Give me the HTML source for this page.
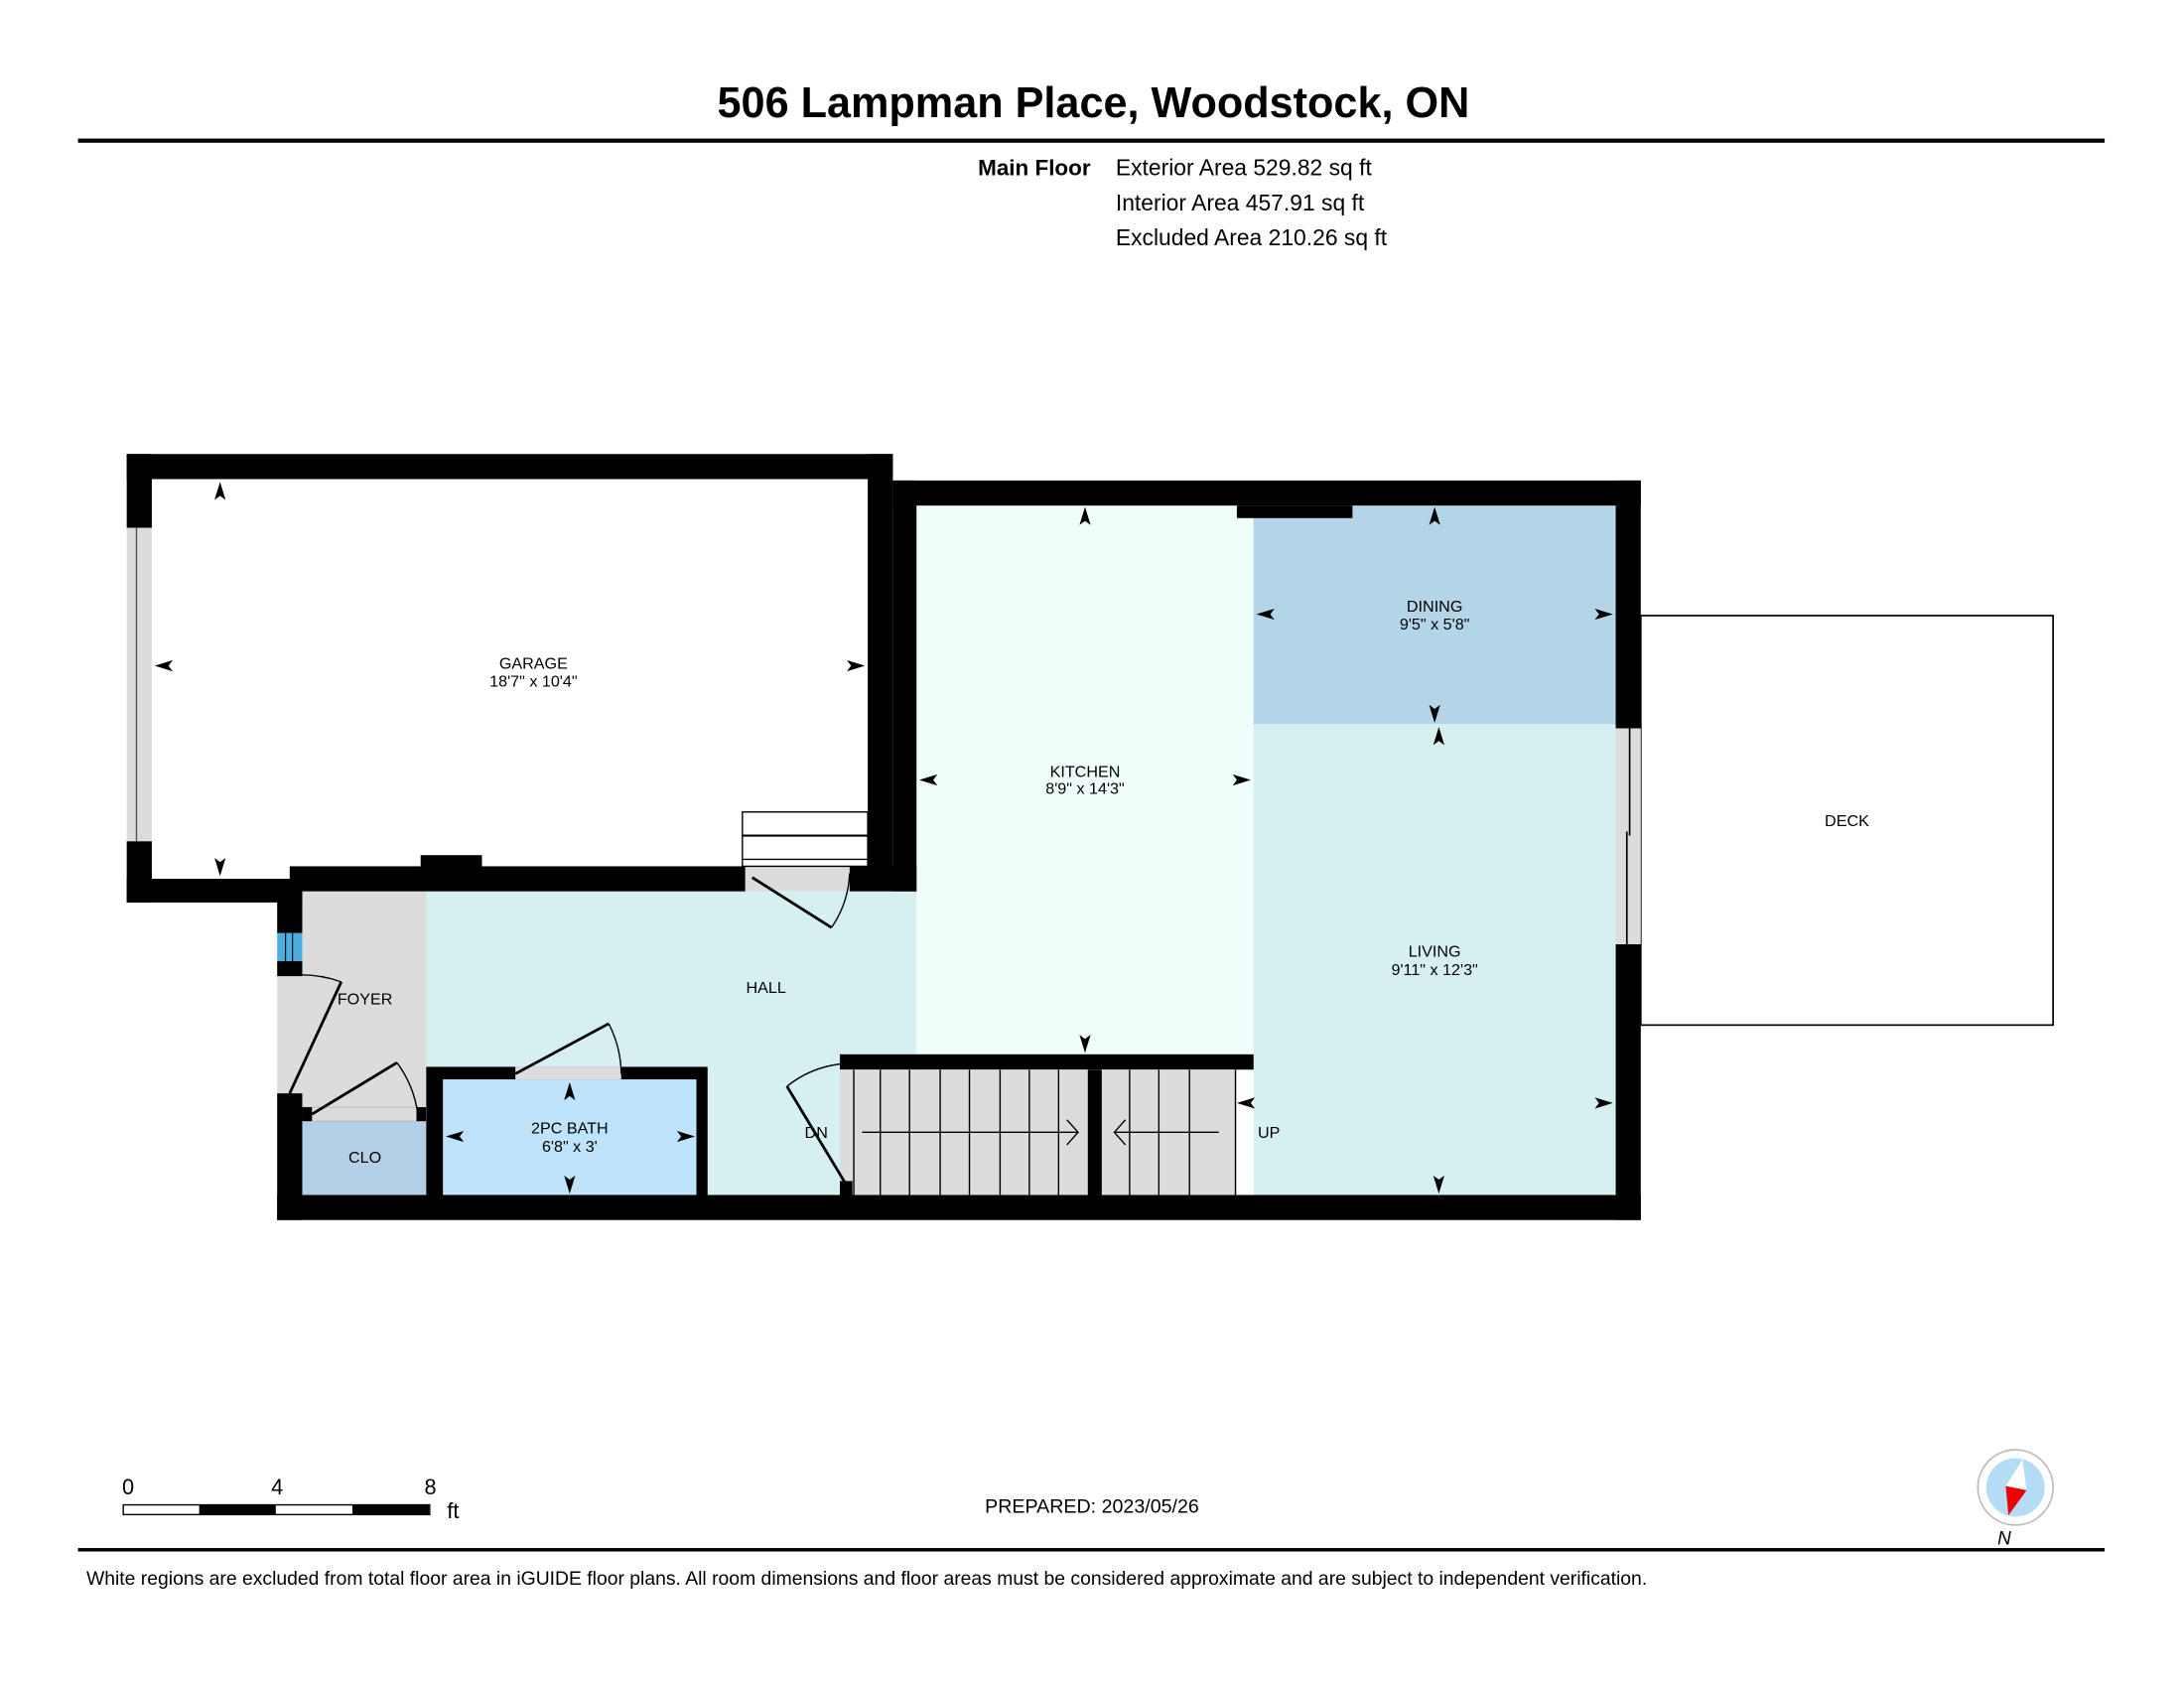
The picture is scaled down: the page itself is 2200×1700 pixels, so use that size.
<!DOCTYPE html>
<html><head><meta charset="utf-8"><style>
html,body{margin:0;padding:0;background:#fff;}
svg{display:block;}
text{font-family:"Liberation Sans",Arial,sans-serif;fill:#000;}
</style></head><body>
<svg width="2200" height="1700" viewBox="0 0 1568 1212" preserveAspectRatio="none" xmlns="http://www.w3.org/2000/svg">
<defs>
<path id="ar" d="M0,0 L4,13 L0,10 L-4,13 Z" fill="#000"/>
</defs>
<rect width="1568" height="1212" fill="#fff"/>
<text x="785" y="84" font-size="30.8" font-weight="bold" text-anchor="middle">506 Lampman Place, Woodstock, ON</text>
<rect x="56" y="99.5" width="1455" height="3" fill="#000"/>
<text x="783" y="126" font-size="16" font-weight="bold" text-anchor="end">Main Floor</text>
<text x="801" y="126" font-size="16.3">Exterior Area 529.82 sq ft</text>
<text x="801" y="151" font-size="16.3">Interior Area 457.91 sq ft</text>
<text x="801" y="176" font-size="16.3">Excluded Area 210.26 sq ft</text>

<!-- deck -->
<rect x="1178" y="442" width="296" height="294" fill="#fff" stroke="#000" stroke-width="1.2"/>
<text x="1326" y="593" font-size="11.5" text-anchor="middle">DECK</text>

<!-- room fills -->
<rect x="658" y="363" width="242" height="400" fill="#effdfb"/>
<rect x="900" y="363" width="260" height="157" fill="#b4d4e8"/>
<rect x="900" y="520" width="260" height="338" fill="#d6f0f2"/>
<rect x="306" y="640" width="352" height="218" fill="#d6f0f2"/>
<rect x="217" y="640" width="89" height="165" fill="#dcdcdc"/>
<rect x="217" y="805" width="89" height="53" fill="#b4d0e6"/>
<rect x="306" y="766" width="202" height="92" fill="#000"/>
<rect x="318" y="775" width="182" height="83" fill="#bfe3fa"/>
<rect x="370" y="766" width="76" height="9" fill="#dcdcdc"/>
<rect x="217" y="795" width="89" height="10" fill="#dcdcdc" stroke="#aaa" stroke-width="0.5"/>
<rect x="535" y="622" width="75" height="18" fill="#dcdcdc"/>

<!-- stairs -->
<rect x="603" y="757" width="297" height="11" fill="#000"/>
<rect x="603" y="768" width="284" height="90" fill="#dcdcdc"/>
<rect x="781" y="768" width="10" height="90" fill="#000"/>
<g stroke="#000" stroke-width="1">
<line x1="613" y1="768" x2="613" y2="858"/>
<line x1="632" y1="768" x2="632" y2="858"/>
<line x1="653" y1="768" x2="653" y2="858"/>
<line x1="675" y1="768" x2="675" y2="858"/>
<line x1="696" y1="768" x2="696" y2="858"/>
<line x1="718" y1="768" x2="718" y2="858"/>
<line x1="739" y1="768" x2="739" y2="858"/>
<line x1="760" y1="768" x2="760" y2="858"/>
<line x1="811" y1="768" x2="811" y2="858"/>
<line x1="832" y1="768" x2="832" y2="858"/>
<line x1="854" y1="768" x2="854" y2="858"/>
<line x1="887" y1="768" x2="887" y2="858"/>
<line x1="619" y1="813" x2="774" y2="813"/>
<polyline points="766,804 774,813 766,822" fill="none"/>
<line x1="800" y1="813" x2="875" y2="813"/>
<polyline points="808,804 800,813 808,822" fill="none"/>
</g>
<rect x="603" y="848" width="9" height="10" fill="#000"/>

<!-- garage stairs -->
<rect x="533" y="583" width="90" height="39" fill="#fff" stroke="#000" stroke-width="1"/>
<line x1="533" y1="600" x2="623" y2="600" stroke="#000" stroke-width="1.5"/>
<line x1="533" y1="617" x2="623" y2="617" stroke="#000" stroke-width="1"/>

<!-- walls -->
<g fill="#000">
<rect x="91" y="326" width="550" height="18"/>
<rect x="91" y="326" width="18" height="53"/>
<rect x="91" y="604" width="18" height="44"/>
<rect x="91" y="631" width="126" height="17"/>
<rect x="208" y="622" width="327" height="18"/>
<rect x="302" y="614" width="44" height="9"/>
<rect x="610" y="622" width="48" height="18"/>
<rect x="623" y="326" width="18" height="300"/>
<rect x="641" y="345" width="537" height="18"/>
<rect x="641" y="345" width="17" height="295"/>
<rect x="888" y="363" width="83" height="9"/>
<rect x="1160" y="345" width="18" height="178"/>
<rect x="1160" y="678" width="18" height="198"/>
<rect x="199" y="858" width="979" height="18"/>
<rect x="199" y="640" width="18" height="30"/>
<rect x="199" y="690" width="18" height="11"/>
<rect x="199" y="785" width="18" height="91"/>
<rect x="217" y="795" width="7" height="10"/>
<rect x="299" y="795" width="7" height="10"/>
</g>
<!-- windows -->
<rect x="91" y="379" width="18" height="225" fill="#dcdcdc"/>
<line x1="98" y1="379" x2="98" y2="604" stroke="#555" stroke-width="1"/>
<rect x="1160" y="523" width="18" height="155" fill="#dcdcdc"/>
<line x1="1170" y1="523" x2="1170" y2="600" stroke="#000" stroke-width="1.2"/>
<line x1="1168" y1="597" x2="1168" y2="678" stroke="#000" stroke-width="1.2"/>
<rect x="199" y="670" width="18" height="20" fill="#4aaee0"/>
<line x1="205" y1="670" x2="205" y2="690" stroke="#000" stroke-width="0.8"/>
<line x1="210" y1="670" x2="210" y2="690" stroke="#000" stroke-width="0.8"/>
<rect x="199" y="701" width="18" height="84" fill="#dcdcdc"/>

<!-- doors -->
<g fill="none" stroke="#000">
<line x1="208" y1="785" x2="245" y2="705" stroke-width="2"/>
<path d="M216,700 A85,85 0 0 1 245,705" stroke-width="1"/>
<line x1="224" y1="800" x2="285" y2="763" stroke-width="2"/>
<path d="M285,763 A80,80 0 0 1 300,800" stroke-width="1"/>
<line x1="370" y1="771" x2="437" y2="735" stroke-width="2"/>
<path d="M437,735 A80,80 0 0 1 446,771" stroke-width="1"/>
<line x1="540" y1="630" x2="597" y2="666" stroke-width="2"/>
<path d="M597,666 A75,75 0 0 0 610,627" stroke-width="1"/>
<line x1="609" y1="853" x2="565" y2="780" stroke-width="2"/>
<path d="M565,780 A75,75 0 0 1 603,764" stroke-width="1"/>
</g>

<!-- arrows -->
<use href="#ar" transform="translate(158,346)"/>
<use href="#ar" transform="translate(158,629) rotate(180)"/>
<use href="#ar" transform="translate(111,478) rotate(-90)"/>
<use href="#ar" transform="translate(621,478) rotate(90)"/>
<use href="#ar" transform="translate(779,364)"/>
<use href="#ar" transform="translate(779,756) rotate(180)"/>
<use href="#ar" transform="translate(660,560) rotate(-90)"/>
<use href="#ar" transform="translate(898,560) rotate(90)"/>
<use href="#ar" transform="translate(1030,364)"/>
<use href="#ar" transform="translate(1030,519) rotate(180)"/>
<use href="#ar" transform="translate(902,441) rotate(-90)"/>
<use href="#ar" transform="translate(1158,441) rotate(90)"/>
<use href="#ar" transform="translate(1033,522)"/>
<use href="#ar" transform="translate(1033,857) rotate(180)"/>
<use href="#ar" transform="translate(888,792) rotate(-90)"/>
<use href="#ar" transform="translate(1158,792) rotate(90)"/>
<use href="#ar" transform="translate(409,777)"/>
<use href="#ar" transform="translate(409,857) rotate(180)"/>
<use href="#ar" transform="translate(320,816) rotate(-90)"/>
<use href="#ar" transform="translate(499,816) rotate(90)"/>

<!-- labels -->
<g font-size="11.5" text-anchor="middle">
<text x="383" y="480">GARAGE</text>
<text x="383" y="493">18'7" x 10'4"</text>
<text x="779" y="558">KITCHEN</text>
<text x="779" y="570">8'9" x 14'3"</text>
<text x="1030" y="439">DINING</text>
<text x="1030" y="452">9'5" x 5'8"</text>
<text x="1030" y="687">LIVING</text>
<text x="1030" y="700">9'11" x 12'3"</text>
<text x="550" y="713">HALL</text>
<text x="262" y="721">FOYER</text>
<text x="409" y="814">2PC BATH</text>
<text x="409" y="827">6'8" x 3'</text>
<text x="262" y="835">CLO</text>
<text x="586" y="817">DN</text>
<text x="911" y="817">UP</text>
</g>

<!-- scale bar -->
<text x="92" y="1073" font-size="15.5" text-anchor="middle">0</text>
<text x="199" y="1073" font-size="15.5" text-anchor="middle">4</text>
<text x="309" y="1073" font-size="15.5" text-anchor="middle">8</text>
<text x="321" y="1090" font-size="15.5">ft</text>
<rect x="88.5" y="1080.5" width="220" height="7" fill="#fff" stroke="#000" stroke-width="1"/>
<rect x="143" y="1080.5" width="55" height="7" fill="#000"/>
<rect x="253" y="1080.5" width="55" height="7" fill="#000"/>

<text x="784" y="1086" font-size="14" text-anchor="middle">PREPARED: 2023/05/26</text>

<!-- compass -->
<circle cx="1447" cy="1068" r="27" fill="#fff" stroke="#bbb" stroke-width="1.2"/>
<circle cx="1447" cy="1068" r="21" fill="#b5dcf5"/>
<polygon points="1452,1048 1455,1070 1440,1067" fill="#fff"/>
<polygon points="1440,1067 1455,1070 1442,1088" fill="#ee0000"/>
<text x="1439" y="1109" font-size="13.5" font-style="italic" text-anchor="middle">N</text>

<rect x="56" y="1111.5" width="1455" height="2.5" fill="#000"/>
<text x="62" y="1138" font-size="13.8">White regions are excluded from total floor area in iGUIDE floor plans. All room dimensions and floor areas must be considered approximate and are subject to independent verification.</text>
</svg>
</body></html>
